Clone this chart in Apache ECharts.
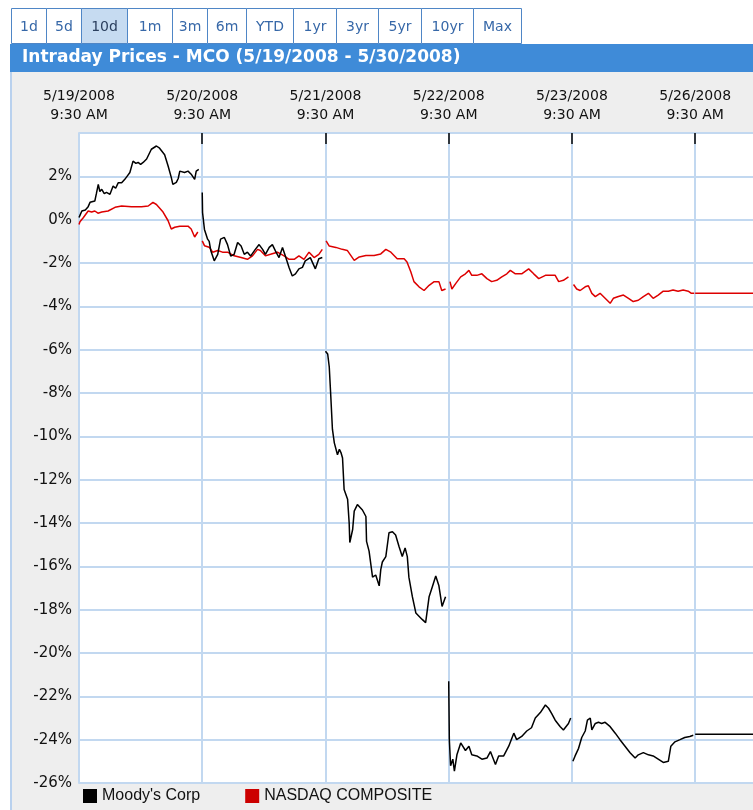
<!DOCTYPE html>
<html>
<head>
<meta charset="utf-8">
<script src="https://cdn.jsdelivr.net/npm/echarts@6/dist/echarts.min.js"></script>
<style>
html,body{margin:0;padding:0;background:#fff;}
#chart{width:753px;height:810px;}
</style>
</head>
<body>
<div id="chart"></div>
<script>
// ---- data (minutes after 9:30 AM open, % change) ----
const dayLabels = ['5/19/2008', '5/20/2008', '5/21/2008', '5/22/2008', '5/23/2008', '5/26/2008'];
const openLabel = '9:30 AM';
const minutesPerDay = 390;
const yTicks = [-26, -24, -22, -20, -18, -16, -14, -12, -10, -8, -6, -4, -2, 0, 2, 4];
const tabs = ['1d', '5d', '10d', '1m', '3m', '6m', 'YTD', '1yr', '3yr', '5yr', '10yr', 'Max'];
const seriesNames = ["Moody's Corp", 'NASDAQ COMPOSITE'];

const mcoDay1 = [[0,0.1],[3,0.2],[9,0.4],[20,0.45],[29,0.6],[35,0.8],[50,0.86],[55,1.2],[61,1.63],[66,1.3],[72,1.4],[80,1.2],[87,1.26],[98,1.17],[108,1.55],[116,1.45],[124,1.7],[135,1.7],[145,1.86],[152,2.0],[161,2.18],[171,2.7],[180,2.6],[187,2.64],[195,2.55],[203,2.64],[214,2.8],[229,3.25],[245,3.4],[255,3.3],[261,3.34],[271,3.0],[282,2.48],[292,1.95],[297,1.63],[308,1.72],[314,1.9],[319,2.24],[324,2.32],[334,2.18],[345,2.24],[355,2.1],[361,2.18],[366,1.86],[371,2.24],[379,2.32]];
const mcoDay2 = [[0,1.25],[1,0.33],[7,-0.45],[11,-0.53],[17,-0.9],[22,-1.0],[27,-1.42],[38,-1.9],[49,-1.6],[58,-0.9],[70,-0.82],[80,-1.15],[90,-1.68],[101,-1.6],[112,-1.05],[123,-1.22],[133,-1.6],[143,-1.5],[153,-1.68],[168,-1.37],[180,-1.15],[191,-1.37],[200,-1.6],[212,-1.28],[222,-1.15],[232,-1.45],[243,-1.75],[254,-1.28],[263,-1.68],[275,-2.22],[285,-2.6],[295,-2.5],[306,-2.27],[317,-2.2],[326,-1.9],[342,-1.75],[358,-2.27],[369,-1.8],[380,-1.75]];
const mcoDay3 = [[0,-6.07],[7,-6.2],[12,-6.8],[17,-8.2],[22,-9.67],[28,-10.3],[38,-10.85],[44,-10.6],[49,-10.75],[54,-11.0],[59,-12.45],[70,-12.9],[75,-14.0],[77,-14.9],[86,-14.3],[91,-13.45],[101,-13.15],[117,-13.4],[128,-13.7],[130,-14.85],[138,-15.3],[149,-16.5],[159,-16.4],[170,-16.9],[175,-16.15],[180,-15.8],[191,-15.55],[201,-14.45],[212,-14.4],[222,-14.55],[233,-15.1],[243,-15.55],[252,-15.15],[259,-15.55],[264,-16.5],[275,-17.4],[286,-18.15],[306,-18.45],[317,-18.6],[328,-17.4],[338,-16.95],[349,-16.45],[359,-16.9],[369,-17.85],[380,-17.4]];
const mcoDay4 = [[0,-21.3],[2,-24.0],[6,-25.2],[13,-24.9],[18,-25.45],[26,-24.7],[38,-24.15],[42,-24.1],[53,-24.5],[64,-24.3],[73,-24.7],[89,-24.75],[105,-24.9],[121,-24.85],[132,-24.55],[148,-25.15],[158,-24.75],[174,-24.75],[190,-24.3],[206,-23.7],[215,-24.0],[231,-23.85],[247,-23.6],[262,-23.45],[274,-23.0],[290,-22.75],[306,-22.4],[316,-22.55],[326,-22.8],[337,-23.1],[353,-23.4],[363,-23.55],[379,-23.25],[386,-23.0]];
const mcoDay5 = [[3,-25.0],[10,-24.75],[21,-24.4],[31,-23.9],[42,-23.6],[49,-23.1],[58,-23.0],[63,-23.55],[74,-23.25],[84,-23.2],[94,-23.25],[105,-23.2],[121,-23.4],[137,-23.7],[152,-24.0],[168,-24.3],[184,-24.6],[200,-24.85],[210,-24.7],[226,-24.6],[242,-24.7],[257,-24.75],[273,-24.9],[289,-25.05],[305,-25.0],[313,-24.3],[326,-24.1],[342,-24.0],[357,-23.9],[373,-23.85],[384,-23.8]];
const mcoAfter = -23.75;

const ndqDay1 = [[0,-0.22],[3,-0.1],[14,0.1],[29,0.4],[40,0.35],[50,0.4],[60,0.3],[72,0.35],[92,0.4],[114,0.57],[135,0.63],[166,0.6],[198,0.6],[219,0.63],[234,0.8],[245,0.7],[266,0.35],[282,-0.05],[292,-0.43],[303,-0.35],[319,-0.3],[345,-0.3],[355,-0.43],[366,-0.8],[376,-0.57]];
const ndqDay2 = [[0,-0.98],[7,-1.2],[22,-1.27],[33,-1.5],[49,-1.42],[64,-1.5],[80,-1.5],[101,-1.67],[123,-1.75],[143,-1.83],[159,-1.67],[175,-1.37],[184,-1.42],[200,-1.67],[216,-1.6],[238,-1.5],[259,-1.67],[275,-1.83],[291,-1.83],[306,-1.67],[322,-1.83],[338,-1.5],[354,-1.75],[369,-1.6],[380,-1.37]];
const ndqDay3 = [[2,-0.98],[12,-1.22],[33,-1.28],[53,-1.37],[69,-1.42],[91,-1.88],[107,-1.72],[128,-1.65],[154,-1.65],[175,-1.58],[191,-1.37],[207,-1.5],[227,-1.8],[249,-1.8],[258,-1.95],[270,-2.4],[280,-2.86],[296,-3.1],[312,-3.27],[328,-3.03],[344,-2.86],[359,-2.86],[368,-3.27],[380,-3.2]];
const ndqDay4 = [[4,-2.86],[10,-3.2],[22,-2.95],[38,-2.64],[53,-2.5],[64,-2.34],[73,-2.57],[89,-2.57],[105,-2.5],[121,-2.72],[136,-2.86],[152,-2.8],[168,-2.64],[184,-2.5],[195,-2.34],[211,-2.5],[231,-2.5],[253,-2.27],[269,-2.5],[285,-2.72],[306,-2.57],[326,-2.57],[337,-2.57],[348,-2.86],[363,-2.8],[379,-2.64]];
const ndqDay5 = [[5,-2.99],[15,-3.2],[26,-3.27],[42,-3.1],[52,-3.05],[63,-3.4],[74,-3.55],[89,-3.4],[105,-3.63],[121,-3.86],[131,-3.63],[147,-3.55],[163,-3.48],[179,-3.63],[194,-3.78],[210,-3.72],[226,-3.55],[242,-3.4],[257,-3.63],[273,-3.48],[289,-3.3],[305,-3.3],[320,-3.25],[336,-3.3],[352,-3.25],[368,-3.3],[378,-3.4],[387,-3.4]];
const ndqAfter = -3.4;

// ---- build series data ----
const xMax = 2133;
function build(days, after) {
  const out = [];
  days.forEach((d, i) => {
    d.forEach(p => out.push([i * minutesPerDay + p[0], p[1]]));
    out.push([i * minutesPerDay + minutesPerDay - 1, '-']);
  });
  out.push([5 * minutesPerDay, after]);
  out.push([xMax, after]);
  return out;
}
const mcoData = build([mcoDay1, mcoDay2, mcoDay3, mcoDay4, mcoDay5], mcoAfter);
const ndqData = build([ndqDay1, ndqDay2, ndqDay3, ndqDay4, ndqDay5], ndqAfter);

const dayStarts = dayLabels.map((_, i) => i * minutesPerDay);

// ---- page chrome (tabs, title bar, panel) ----
const tabEdges = [11, 46, 81, 127, 172, 207, 246, 293, 336, 378, 421, 473, 521];
const graphics = [];
graphics.push({type:'rect', z:-10, shape:{x:11, y:72, width:742, height:738}, style:{fill:'#eeeeee'}});
graphics.push({type:'rect', z:-9, shape:{x:10, y:72, width:2, height:738}, style:{fill:'#b9d1ee'}});
graphics.push({type:'rect', z:-9, shape:{x:10, y:44, width:743, height:28}, style:{fill:'#3f8bd8'}});
graphics.push({type:'text', z:5, x:22, y:58, style:{text:'Intraday Prices - MCO (5/19/2008 - 5/30/2008)', fill:'#ffffff', font:'bold 17px "DejaVu Sans"', verticalAlign:'middle'}});
tabs.forEach((t, i) => {
  const x0 = tabEdges[i], x1 = tabEdges[i + 1];
  graphics.push({type:'rect', z:-8, shape:{x:x0 + 0.5, y:8.5, width:x1 - x0, height:35}, style:{fill: t === '10d' ? '#c6dbf1' : '#ffffff', stroke:'#4f86c6', lineWidth:1}});
  graphics.push({type:'text', z:5, x:(x0 + x1) / 2 + 0.5, y:27, style:{text:t, fill: t === '10d' ? '#2b3f5e' : '#3768a8', font:'14px "DejaVu Sans"', align:'center', verticalAlign:'middle'}});
});

const chart = echarts.init(document.getElementById('chart'));
const gridColor = '#c2d8f0';
chart.setOption({
  animation: false,
  backgroundColor: 'transparent',
  graphic: graphics,
  grid: {left: 79, right: -2, top: 133, bottom: 27, show: true, backgroundColor: '#ffffff', borderWidth: 0},
  legend: {
    data: seriesNames, left: 83, top: 788, padding: 0, itemWidth: 14, itemHeight: 14, itemGap: 45, icon: 'rect',
    textStyle: {fontFamily: '"Liberation Sans"', fontSize: 16, color: '#111'}
  },
  xAxis: {
    type: 'value', position: 'top', min: 0, max: xMax, interval: minutesPerDay,
    axisLine: {show: true, onZero: false, lineStyle: {color: gridColor, width: 1}},
    axisTick: {show: true, inside: true, length: 11, customValues: dayStarts.slice(1), lineStyle: {color: '#000', width: 1.5}},
    axisLabel: {
      customValues: dayStarts, margin: 8, lineHeight: 19,
      fontFamily: '"DejaVu Sans"', fontSize: 14, color: '#111',
      formatter: v => {
        const i = Math.round(v / minutesPerDay);
        return dayLabels[i] ? dayLabels[i] + '\n' + openLabel : '';
      }
    },
    splitLine: {show: true, lineStyle: {color: gridColor, width: 2}}
  },
  yAxis: {
    type: 'value', min: yTicks[0], max: yTicks[yTicks.length - 1], interval: 2,
    axisLine: {show: true, onZero: false, lineStyle: {color: gridColor, width: 2}},
    axisTick: {show: false},
    axisLabel: {
      margin: 7, fontFamily: '"DejaVu Sans"', fontSize: 15, color: '#111',
      formatter: v => (v === yTicks[yTicks.length - 1] ? '' : v + '%')
    },
    splitLine: {show: true, lineStyle: {color: gridColor, width: 2}}
  },
  series: [
    {name: seriesNames[0], type: 'line', data: mcoData, showSymbol: false, connectNulls: false,
     lineStyle: {color: '#000000', width: 1.5}, itemStyle: {color: '#000000'}, z: 3},
    {name: seriesNames[1], type: 'line', data: ndqData, showSymbol: false, connectNulls: false,
     lineStyle: {color: '#dd0000', width: 1.5}, itemStyle: {color: '#cc0000'}, z: 2}
  ]
});
</script>
</body>
</html>
